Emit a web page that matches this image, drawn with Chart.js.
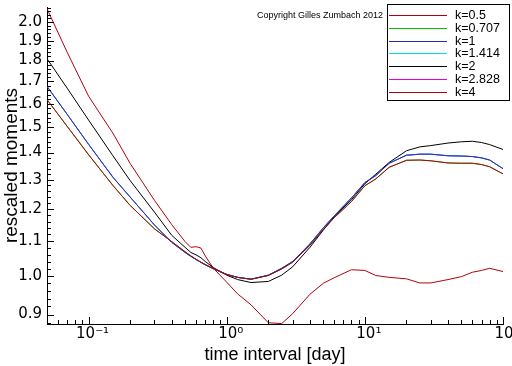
<!DOCTYPE html>
<html>
<head>
<meta charset="utf-8">
<script src="https://cdn.jsdelivr.net/npm/chart.js@4.4.1/dist/chart.umd.min.js"></script>
<style>
  html, body { margin: 0; padding: 0; background: #fff; }
  #chart { display: block; }
</style>
</head>
<body>
<canvas id="chart" width="512" height="366"></canvas>
<script>
// time interval [day]
const intervals = [0.05, 0.07, 0.1, 0.15, 0.2, 0.3, 0.4, 0.5, 0.55, 0.6, 0.65, 0.7, 0.8, 1, 1.2, 1.5, 2, 2.5, 3, 4, 5, 6, 8, 10, 12, 15, 20, 25, 30, 40, 50, 60, 70, 80, 100];

// rescaled moments, one array per k
const k05 = [1.618, 1.504, 1.392, 1.280, 1.212, 1.137, 1.098, 1.068, 1.056, 1.046, 1.038, 1.031, 1.020, 1.004, 0.996, 0.991, 1.001, 1.019, 1.038, 1.087, 1.135, 1.172, 1.225, 1.279, 1.303, 1.345, 1.371, 1.372, 1.369, 1.361, 1.360, 1.360, 1.355, 1.347, 1.321];
const k0707 = [1.618, 1.504, 1.392, 1.280, 1.212, 1.137, 1.098, 1.068, 1.056, 1.046, 1.038, 1.031, 1.020, 1.004, 0.996, 0.991, 1.001, 1.019, 1.038, 1.087, 1.135, 1.172, 1.225, 1.279, 1.303, 1.345, 1.371, 1.372, 1.369, 1.361, 1.360, 1.360, 1.355, 1.347, 1.321];
const k1 = [1.677, 1.554, 1.432, 1.309, 1.240, 1.149, 1.096, 1.066, 1.055, 1.046, 1.038, 1.031, 1.020, 1.004, 0.996, 0.991, 1.002, 1.021, 1.040, 1.091, 1.140, 1.178, 1.237, 1.290, 1.315, 1.360, 1.390, 1.394, 1.394, 1.388, 1.387, 1.385, 1.380, 1.372, 1.340];
const k1414 = [1.677, 1.554, 1.432, 1.309, 1.240, 1.149, 1.096, 1.066, 1.055, 1.046, 1.038, 1.031, 1.020, 1.004, 0.996, 0.991, 1.002, 1.021, 1.040, 1.091, 1.140, 1.178, 1.237, 1.290, 1.315, 1.360, 1.390, 1.394, 1.394, 1.388, 1.387, 1.385, 1.380, 1.372, 1.340];
const k2 = [1.809, 1.669, 1.530, 1.388, 1.297, 1.190, 1.117, 1.081, 1.066, 1.059, 1.051, 1.040, 1.023, 1.002, 0.990, 0.982, 0.985, 1.002, 1.025, 1.081, 1.133, 1.176, 1.231, 1.286, 1.320, 1.363, 1.407, 1.422, 1.427, 1.437, 1.442, 1.444, 1.439, 1.431, 1.412];
const k2828 = [1.677, 1.554, 1.432, 1.309, 1.240, 1.149, 1.096, 1.066, 1.055, 1.046, 1.038, 1.031, 1.020, 1.004, 0.996, 0.991, 1.002, 1.021, 1.040, 1.091, 1.140, 1.178, 1.237, 1.290, 1.315, 1.360, 1.390, 1.394, 1.394, 1.388, 1.387, 1.385, 1.380, 1.372, 1.340];
const k4 = [2.073, 1.841, 1.633, 1.476, 1.359, 1.229, 1.150, 1.098, 1.081, 1.083, 1.079, 1.056, 1.021, 0.983, 0.952, 0.924, 0.880, 0.878, 0.902, 0.951, 0.980, 0.995, 1.017, 1.015, 1.001, 0.996, 0.992, 0.981, 0.981, 0.990, 0.998, 1.010, 1.015, 1.021, 1.012];

const seriesLabels = ["k=0.5", "k=0.707", "k=1", "k=1.414", "k=2", "k=2.828", "k=4"];
const seriesValues = [k05, k0707, k1, k1414, k2, k2828, k4];
const seriesColors = ["#b00010", "#00c000", "#2a2ab8", "#00e0e0", "#000000", "#e000e0", "#b00010"];
const seriesOrder = [0, 1, 0, 1, 0, 1, 0]; // hidden curves go underneath

const xTicks = [0.1, 1, 10, 100];
const xTickLabels = ["10\u207B\u00B9", "10\u2070", "10\u00B9", "10\u00B2"];
const yTicks = [0.9, 1.0, 1.1, 1.2, 1.3, 1.4, 1.5, 1.6, 1.7, 1.8, 1.9, 2.0];

const datasets = seriesLabels.map((label, i) => ({
    label: label,
    data: intervals.map((t, j) => ({ x: t, y: seriesValues[i][j] })),
    borderColor: seriesColors[i],
    borderWidth: 1,
    pointRadius: 0,
    fill: false,
    tension: 0,
    order: seriesOrder[i],
}));

// ticks pointing into the plot, like the original
const inwardTicks = {
    id: "inwardTicks",
    afterDraw(chart) {
        const ctx = chart.ctx;
        const area = chart.chartArea;
        const x = chart.scales.x;
        const y = chart.scales.y;
        ctx.save();
        ctx.strokeStyle = "#000";
        ctx.lineWidth = 1;
        ctx.beginPath();
        for (let e = -2; e <= 2; e++) {
            for (let m = 1; m <= 9; m++) {
                const v = m * Math.pow(10, e);
                if (v < 0.05 || v > 100.0001) continue;
                const px = Math.round(x.getPixelForValue(v)) + 0.5;
                const len = m === 1 ? 7 : 4;
                ctx.moveTo(px, area.bottom);
                ctx.lineTo(px, area.bottom - len);
            }
        }
        for (let i = 44; i <= 104; i++) {
            const v = i / 50;
            if (v < y.min || v > y.max) continue;
            const py = Math.round(y.getPixelForValue(v)) + 0.5;
            const len = i % 5 === 0 ? 7 : 4;
            ctx.moveTo(area.left, py);
            ctx.lineTo(area.left + len, py);
        }
        ctx.stroke();
        ctx.restore();
    },
};

// boxed legend in the top right corner + copyright note
const boxLegend = {
    id: "boxLegend",
    afterDraw(chart) {
        const ctx = chart.ctx;
        ctx.save();
        ctx.fillStyle = "#fff";
        ctx.fillRect(387.5, 4.5, 122, 96);
        ctx.strokeStyle = "#000";
        ctx.lineWidth = 1;
        ctx.strokeRect(387.5, 4.5, 122, 96);
        ctx.font = '12.5px "Liberation Sans", Arial, sans-serif';
        ctx.textBaseline = "middle";
        chart.data.datasets.forEach((ds, i) => {
            const yy = Math.round(15 + i * 12.8) + 0.5;
            ctx.strokeStyle = seriesColors[i];
            ctx.beginPath();
            ctx.moveTo(389, yy);
            ctx.lineTo(447, yy);
            ctx.stroke();
            ctx.fillStyle = "#000";
            ctx.fillText(ds.label, 455, yy);
        });
        ctx.font = '9px "Liberation Sans", Arial, sans-serif';
        ctx.fillText("Copyright Gilles Zumbach 2012", 257, 16);
        ctx.restore();
    },
};

const ctx = document.getElementById("chart").getContext("2d");
new Chart(ctx, {
    type: "line",
    data: { datasets: datasets },
    options: {
        responsive: false,
        animation: false,
        events: [],
        layout: { padding: { left: 0, right: 9, top: 7, bottom: 0 } },
        plugins: {
            legend: { display: false },
            tooltip: { enabled: false },
        },
        scales: {
            x: {
                type: "logarithmic",
                min: 0.05,
                max: 100,
                grid: { display: false, drawTicks: false },
                border: { display: true, color: "#000", width: 1 },
                afterBuildTicks: (scale) => {
                    scale.ticks = xTicks.map((v) => ({ value: v }));
                },
                afterFit: (scale) => {
                    scale.height = 42;
                    scale.paddingLeft = 0;
                    scale.paddingRight = 0;
                },
                ticks: {
                    autoSkip: false,
                    maxRotation: 0,
                    padding: 1,
                    labelOffset: 4,
                    color: "#000",
                    font: { family: '"DejaVu Sans", sans-serif', size: 15 },
                    callback: (value) => xTickLabels[xTicks.indexOf(value)],
                },
                title: {
                    display: true,
                    text: "time interval [day]",
                    color: "#000",
                    padding: { top: 0, bottom: 0 },
                    font: { family: '"Liberation Sans", Arial, sans-serif', size: 18 },
                },
            },
            y: {
                type: "logarithmic",
                min: 0.877,
                max: 2.083,
                grid: { display: false, drawTicks: false },
                border: { display: true, color: "#000", width: 1 },
                afterBuildTicks: (scale) => {
                    scale.ticks = yTicks.map((v) => ({ value: v }));
                },
                afterFit: (scale) => {
                    scale.width = 47;
                    scale.paddingTop = 0;
                    scale.paddingBottom = 0;
                },
                ticks: {
                    autoSkip: false,
                    padding: 5,
                    color: "#000",
                    font: { family: '"DejaVu Sans", sans-serif', size: 15 },
                    callback: (value) => Number(value).toFixed(1),
                },
                title: {
                    display: true,
                    text: "rescaled moments",
                    color: "#000",
                    padding: { top: 0, bottom: 0 },
                    font: { family: '"Liberation Sans", Arial, sans-serif', size: 19 },
                },
            },
        },
    },
    plugins: [inwardTicks, boxLegend],
});
</script>
</body>
</html>
